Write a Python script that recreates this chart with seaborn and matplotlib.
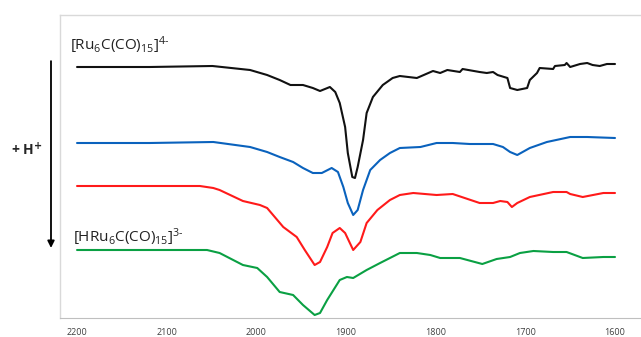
import pandas as pd
import matplotlib.pyplot as plt
import seaborn as sns

# wavenumber (cm-1) and offset intensity (arb. units)
black_wn = [2200, 2119, 2049, 2007, 1988, 1974, 1962, 1948, 1937, 1929, 1918, 1912, 1907, 1901,
            1898, 1893, 1890, 1887, 1881, 1877, 1870, 1859, 1848, 1840, 1821, 1803, 1795, 1787,
            1773, 1770, 1751, 1743, 1736, 1731, 1720, 1717, 1709, 1698, 1695, 1687, 1684, 1669,
            1667, 1656, 1654, 1650, 1639, 1631, 1625, 1617, 1609, 1600]
black_val = [251, 251, 252, 248, 243, 238, 233, 233, 230, 227, 231, 226, 215, 191,
             165, 141, 140, 151, 178, 205, 221, 233, 240, 242, 240, 247, 245, 248,
             246, 249, 246, 245, 246, 243, 240, 230, 228, 230, 238, 245, 250, 249,
             252, 253, 255, 251, 254, 255, 253, 252, 254, 254]

blue_wn = [2200, 2119, 2048, 2007, 1988, 1974, 1959, 1948, 1937, 1927, 1916, 1909, 1903, 1898,
           1892, 1887, 1881, 1873, 1862, 1851, 1840, 1817, 1799, 1781, 1762, 1736, 1725, 1717,
           1709, 1695, 1676, 1650, 1631, 1600]
blue_val = [175, 175, 176, 171, 166, 161, 156, 150, 145, 145, 150, 146, 131, 115,
            103, 108, 128, 148, 158, 165, 170, 171, 175, 175, 174, 174, 171, 166,
            163, 170, 176, 181, 181, 180]

red_wn = [2200, 2063, 2048, 2041, 2015, 1996, 1988, 1970, 1955, 1946, 1935, 1929, 1921, 1915,
          1907, 1901, 1892, 1884, 1877, 1865, 1851, 1840, 1825, 1799, 1781, 1751, 1736, 1728,
          1720, 1715, 1709, 1695, 1669, 1654, 1650, 1636, 1613, 1600]
red_val = [132, 132, 130, 128, 117, 113, 110, 91, 81, 68, 53, 56, 71, 85,
           90, 85, 68, 76, 95, 108, 118, 123, 125, 123, 124, 115, 115, 117,
           116, 111, 115, 121, 126, 126, 124, 121, 125, 125]

green_wn = [2200, 2055, 2041, 2015, 1999, 1988, 1974, 1959, 1948, 1935, 1929, 1921, 1907, 1899,
            1892, 1877, 1862, 1840, 1821, 1806, 1795, 1773, 1748, 1732, 1717, 1706, 1691, 1669,
            1654, 1636, 1613, 1600]
green_val = [68, 68, 65, 53, 50, 41, 26, 23, 13, 3, 5, 18, 38, 41,
             40, 48, 55, 65, 65, 63, 60, 60, 54, 59, 61, 65, 67, 66,
             66, 60, 61, 61]

tick_values = [2200, 2100, 2000, 1900, 1800, 1700, 1600]

frames = []
for name, wn, val in [("black", black_wn, black_val), ("blue", blue_wn, blue_val),
                      ("red", red_wn, red_val), ("green", green_wn, green_val)]:
    frames.append(pd.DataFrame({"wn": wn, "val": val, "trace": name}))
df = pd.concat(frames, ignore_index=True)

sns.set_style("white")
plt.rcParams["font.family"] = ["Open Sans", "DejaVu Sans"]
plt.rcParams["mathtext.fontset"] = "custom"
plt.rcParams["mathtext.rm"] = "Open Sans"
plt.rcParams["mathtext.it"] = "Open Sans"
plt.rcParams["lines.solid_joinstyle"] = "round"

fig = plt.figure(figsize=(6.41, 3.37), dpi=100)
ax = fig.add_axes([60 / 641, 1 - 318 / 337, 1 - 60 / 641, 303 / 337])

palette = {"black": "#111111", "blue": "#0a62bd", "red": "#ff1a1a", "green": "#0aa043"}
sns.lineplot(data=df, x="wn", y="val", hue="trace", palette=palette, sort=False,
             estimator=None, linewidth=1.5, legend=False, ax=ax)

ax.set_xlim(2219, 1571)
ax.set_ylim(0, 303)
ax.set_xticks(tick_values)
ax.set_xticklabels([str(t) for t in tick_values])
ax.set_yticks([])
ax.set_xlabel("")
ax.set_ylabel("")
ax.tick_params(axis="x", direction="out", length=3, width=0.8, color="#a6a6a6",
               labelsize=6.5, labelcolor="#404040", pad=4)

for side in ["top", "left"]:
    ax.spines[side].set_color("#d9d9d9")
    ax.spines[side].set_linewidth(1.0)
ax.spines["bottom"].set_color("#bfbfbf")
ax.spines["right"].set_visible(False)

ax.text(2208, 273, r"[Ru$_6$C(CO)$_{15}$]$^{4\text{-}}$", fontsize=11, color="#222222",
        va="center", ha="left")
ax.text(2205, 81, r"[HRu$_6$C(CO)$_{15}$]$^{3\text{-}}$", fontsize=11, color="#222222",
        va="center", ha="left")

ax.annotate("", xy=(-0.0155, 0.222), xytext=(-0.0155, 0.857), xycoords="axes fraction",
            arrowprops=dict(arrowstyle="-|>", color="black", lw=1.3, mutation_scale=10),
            annotation_clip=False)
ax.text(-0.057, 0.554, r"+ H$^{\mathbf{+}}$", transform=ax.transAxes, fontsize=10,
        fontweight="bold", ha="center", va="center")

fig.savefig("out.png", dpi=100)
